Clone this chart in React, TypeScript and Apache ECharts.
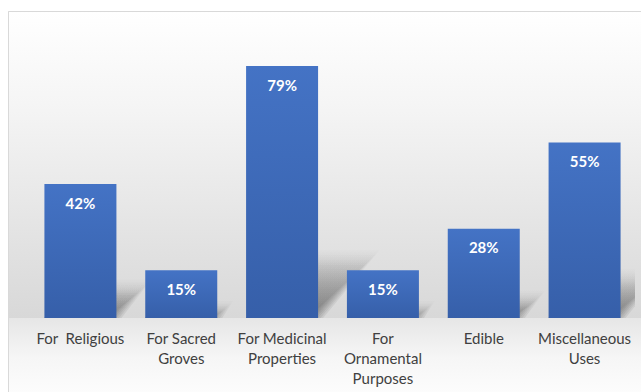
import React, { useEffect, useRef } from "react";
import * as echarts from "echarts";

const categories = [
  "For  Religious",
  "For Sacred\nGroves",
  "For Medicinal\nProperties",
  "For\nOrnamental\nPurposes",
  "Edible",
  "Miscellaneous\nUses",
];
const values = [42, 15, 79, 15, 28, 55];

export default function App() {
  const ref = useRef<HTMLDivElement>(null);
  useEffect(() => {
    if (!ref.current) return;
    const chart = echarts.init(ref.current, null, { renderer: "svg" });
    const font = "Lato, 'Open Sans', sans-serif";
    const halfBar = 36;
    chart.setOption({
      animation: false,
      backgroundColor: "#ffffff",
      graphic: [
        {
          type: "rect",
          z: -10,
          shape: { x: 8.5, y: 11.5, width: 700, height: 306.5 },
          style: {
            fill: new echarts.graphic.LinearGradient(0, 0, 0, 1, [
              { offset: 0, color: "#ffffff" },
              { offset: 0.3, color: "#f5f5f5" },
              { offset: 1, color: "#d8d8d8" },
            ]),
            stroke: "#d9d9d9",
            lineWidth: 1,
          },
        },
        {
          type: "rect",
          z: -10,
          shape: { x: 9, y: 318, width: 700, height: 80 },
          style: {
            fill: new echarts.graphic.LinearGradient(0, 0, 0, 1, [
              { offset: 0, color: "#e6e6e6" },
              { offset: 0.5, color: "#f6f6f6" },
              { offset: 1, color: "#fdfdfd" },
            ]),
          },
        },
        {
          type: "line",
          z: -9,
          shape: { x1: 8.5, y1: 11.5, x2: 8.5, y2: 400 },
          style: { stroke: "#d9d9d9", lineWidth: 1 },
        },
      ],
      grid: { left: 30, right: 6, top: 31, bottom: 74, containLabel: false },
      xAxis: {
        type: "category",
        data: categories,
        axisLine: { show: false },
        axisTick: { show: false },
        axisLabel: {
          interval: 0,
          margin: 10,
          lineHeight: 20,
          color: "#404040",
          fontSize: 15,
          fontFamily: font,
        },
      },
      yAxis: {
        type: "value",
        min: 0,
        max: 90,
        show: false,
        splitLine: { show: false },
      },
      series: [
        {
          type: "custom",
          z: 1,
          clip: true,
          data: values.map((v, i) => [i, v]),
          renderItem: (params: any, api: any) => {
            const i = api.value(0);
            const v = api.value(1);
            const base = api.coord([i, 0]);
            const top = api.coord([i, v]);
            const h = base[1] - top[1];
            const hh = h * 0.25;
            const s = hh * 0.9;
            const children: any[] = [];
            const layers = 7;
            for (let k = 0; k < layers; k++) {
              const e = (k - 2) * 2.5;
              children.push({
                type: "polygon",
                shape: {
                  points: [
                    [base[0] - halfBar, base[1]],
                    [base[0] + halfBar - e, base[1]],
                    [base[0] + halfBar + s - e, base[1] - hh + e],
                    [base[0] - halfBar + s - e, base[1] - hh + e],
                  ],
                },
                style: {
                  fill: new echarts.graphic.LinearGradient(0, 0, 0, 1, [
                    { offset: 0, color: "rgba(0,0,0,0.01)" },
                    { offset: 0.5, color: "rgba(0,0,0,0.045)" },
                    { offset: 1, color: "rgba(0,0,0,0.075)" },
                  ]),
                },
              });
            }
            return { type: "group", children };
          },
        },
        {
          type: "bar",
          z: 3,
          data: values,
          barWidth: 72,
          itemStyle: {
            color: new echarts.graphic.LinearGradient(0, 0, 0, 1, [
              { offset: 0, color: "#4473c5" },
              { offset: 1, color: "#365fa9" },
            ]),
          },
          label: {
            show: true,
            position: "insideTop",
            distance: 11,
            formatter: "{c}%",
            color: "#ffffff",
            fontWeight: "bold",
            fontSize: 15,
            fontFamily: font,
          },
        },
      ],
    });
    return () => chart.dispose();
  }, []);
  return (
    <div
      ref={ref}
      style={{ position: "fixed", left: 0, top: 0, width: 641, height: 392 }}
    />
  );
}
